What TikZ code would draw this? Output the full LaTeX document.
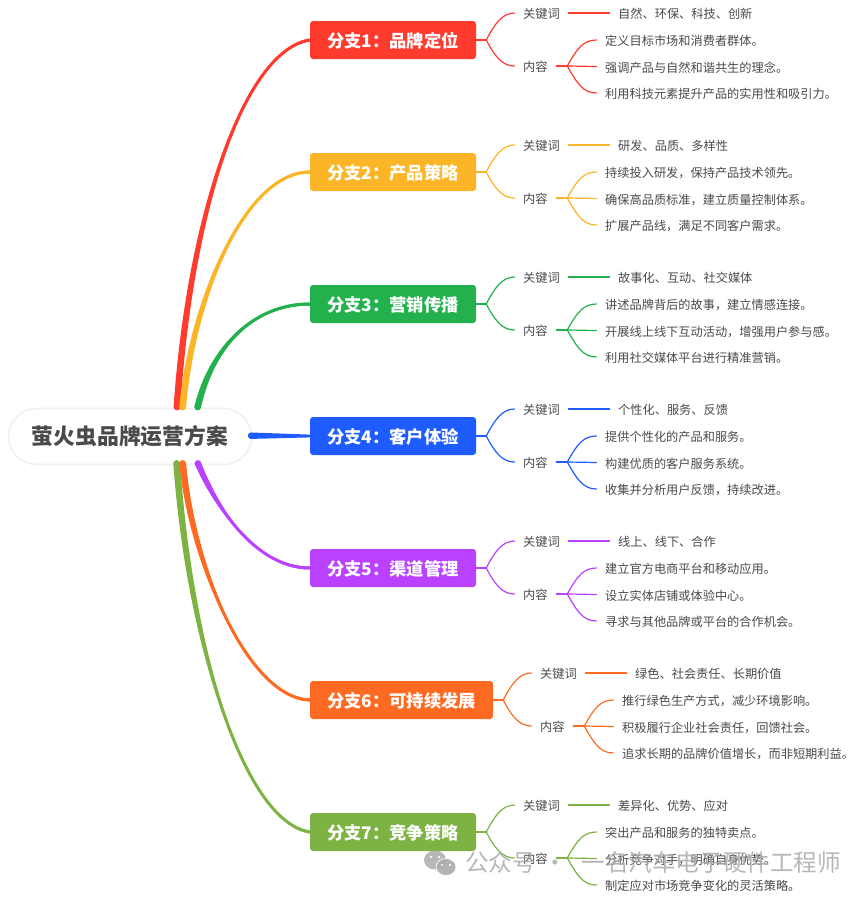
\documentclass[tikz,border=0pt]{standalone}
\usepackage{fontspec}
\setmainfont{Noto Sans CJK SC}
\usetikzlibrary{calc}

% Full-width punctuation
\newcommand{\zc}{\symbol{"FF0C}}
\newcommand{\zm}{\symbol{"FF1A}}

% Tapered limb from the central topic to a branch box: colour, start, c1, c2, target box
\newcommand{\limb}[5]{%
  \fill[#1] ($(#2)+(-3.4,0)$) .. controls ($(#3)+(-3,0)$) and ($(#4)+(0,-1.5)$) .. ($(#5.west)+(0,-1.5)$)
    -- ($(#5.west)+(0,1.5)$) .. controls ($(#4)+(0,1.5)$) and ($(#3)+(3,0)$) .. ($(#2)+(3.4,0)$) -- cycle;
  \draw[#1,line width=3pt] (#2) .. controls (#3) and (#4) .. (#5.west);
  \fill[#1] (#2) circle (3.4);
}

% One branch: id, colour, centre y, box width, x shift of the leaves, title, keywords, two items
\newcommand{\branchrow}[9]{%
  \node[branchbox,fill=#2,minimum width=#4pt] (b#1) at ({310+#4/2},#3) {#6};
  \node[leaf] (k#1) at (514.5+#5,#3-27) {关键词};
  \node[leaf] (c#1) at (514.5+#5,#3+26) {内容};
  \node[leaf] (w#1) at (609.5+#5,#3-27) {#7};
  \node[leaf] (ia#1) at (596.5+#5,#3) {#8};
  \node[leaf] (ib#1) at (596.5+#5,#3+26.5) {#9};
  \coordinate (f#1) at ($(b#1.east)+(10,0)$);
  \coordinate (g#1) at ($(c#1.east)+(11,0)$);
  \draw[twig,#2] (b#1.east) -- (f#1);
  \draw[twig,#2] (f#1) .. controls ($(f#1)+(9,-17)$) and ($(k#1.west)+(-12,0)$) .. (k#1.west);
  \draw[twig,#2] (f#1) .. controls ($(f#1)+(9,17)$) and ($(c#1.west)+(-12,0)$) .. (c#1.west);
  \draw[twig,#2] (k#1.east) -- (w#1.west);
  \draw[twig,#2] (c#1.east) -- (g#1);
  \draw[twig,#2] (g#1) .. controls ($(g#1)+(10,-18)$) and ($(ia#1.west)+(-13,0)$) .. (ia#1.west);
  \draw[twig,#2] (g#1) -- (ib#1.west);
  \branchlast{#1}{#2}{#3}{#5}%
}
\newcommand{\branchlast}[4]{%
  \node[leaf] (ic#1) at (596.5+#4,#3+53) {\csname lastitem#1\endcsname};
  \draw[twig,#2] (g#1) .. controls ($(g#1)+(10,18)$) and ($(ic#1.west)+(-13,0)$) .. (ic#1.west);
}

\definecolor{cred}{HTML}{FF3B2E}
\definecolor{cyel}{HTML}{FBB526}
\definecolor{cgrn}{HTML}{22B14C}
\definecolor{cblu}{HTML}{1F5CFF}
\definecolor{cpur}{HTML}{B941FF}
\definecolor{corg}{HTML}{FF6A22}
\definecolor{coli}{HTML}{7CB342}
\definecolor{ctxt}{HTML}{4A4A4A}

\tikzset{
  branchbox/.style={rounded corners=3pt,minimum height=38pt,inner sep=0pt,text=white,
    text height=17pt,text depth=3pt,font=\fontsize{17.3pt}{20pt}\selectfont\bfseries},
  leaf/.style={anchor=west,inner sep=8.5pt,text=ctxt,text height=14pt,text depth=2.5pt,
    font=\fontsize{12.2pt}{14pt}\selectfont},
  twig/.style={line width=1.2pt,line cap=round},
  rootbox/.style={rounded corners=28pt,draw=black!6,line width=1.6pt,fill=white,minimum width=243pt,
    minimum height=56pt,text=ctxt,font=\fontsize{21.8pt}{25pt}\selectfont\bfseries},
  markfont/.style={text=black!33,opacity=.85,anchor=west,inner sep=0pt,font=\fontsize{23.6pt}{26pt}\selectfont}
}

\newcommand{\lastitema}{利用科技元素提升产品的实用性和吸引力。}
\newcommand{\lastitemb}{扩展产品线\zc 满足不同客户需求。}
\newcommand{\lastitemc}{利用社交媒体平台进行精准营销。}
\newcommand{\lastitemd}{收集并分析用户反馈\zc 持续改进。}
\newcommand{\lastiteme}{寻求与其他品牌或平台的合作机会。}
\newcommand{\lastitemf}{追求长期的品牌价值增长\zc 而非短期利益。}
\newcommand{\lastitemg}{制定应对市场竞争变化的灵活策略。}

\begin{document}
\begin{tikzpicture}[x=1pt,y=-1pt]
\useasboundingbox (0,0) rectangle (865,898);
\fill[white] (0,0) rectangle (865,898);

\branchrow{a}{cred}{40}{166}{0}{分支1\zm 品牌定位}{自然、环保、科技、创新}{定义目标市场和消费者群体。}{强调产品与自然和谐共生的理念。}
\branchrow{b}{cyel}{172}{166}{0}{分支2\zm 产品策略}{研发、品质、多样性}{持续投入研发\zc 保持产品技术领先。}{确保高品质标准\zc 建立质量控制体系。}
\branchrow{c}{cgrn}{304}{166}{0}{分支3\zm 营销传播}{故事化、互动、社交媒体}{讲述品牌背后的故事\zc 建立情感连接。}{开展线上线下互动活动\zc 增强用户参与感。}
\branchrow{d}{cblu}{436}{166}{0}{分支4\zm 客户体验}{个性化、服务、反馈}{提供个性化的产品和服务。}{构建优质的客户服务系统。}
\branchrow{e}{cpur}{568}{166}{0}{分支5\zm 渠道管理}{线上、线下、合作}{建立官方电商平台和移动应用。}{设立实体店铺或体验中心。}
\branchrow{f}{corg}{700}{183}{17}{分支6\zm 可持续发展}{绿色、社会责任、长期价值}{推行绿色生产方式\zc 减少环境影响。}{积极履行企业社会责任\zc 回馈社会。}
\branchrow{g}{coli}{832}{166}{0}{分支7\zm 竞争策略}{差异化、优势、应对}{突出产品和服务的独特卖点。}{分析竞争对手\zc 明确自身优势。}

\node[rootbox] (root) at (130,436.5) {萤火虫品牌运营方案};

% Limbs leaving the central topic
\coordinate (sa) at (177,407);
\coordinate (sb) at (182.7,407);
\coordinate (sc) at (197.7,407);
\coordinate (sd) at (251,435.7);
\coordinate (se) at (198,463.5);
\coordinate (sf) at (182.7,463.5);
\coordinate (sg) at (176.7,463.5);
\coordinate (ca) at (190,210); \coordinate (da) at (245,50);
\coordinate (cb) at (192,300); \coordinate (db) at (245,172);
\coordinate (cc) at (212,345); \coordinate (dc) at (255,304);
\coordinate (ce) at (215,505); \coordinate (de) at (255,568);
\coordinate (cf) at (192,565); \coordinate (df) at (248,698);
\coordinate (cg) at (190,650); \coordinate (dg) at (245,822);

\limb{cred}{sa}{ca}{da}{ba}
\limb{cyel}{sb}{cb}{db}{bb}
\limb{cgrn}{sc}{cc}{dc}{bc}
\fill[cblu] (sd) circle (3.2);
\fill[cblu] ($(sd)+(0,-3.2)$) -- ($(bd.west)+(0,-1.4)$) -- ($(bd.west)+(0,1.4)$) -- ($(sd)+(0,3.2)$) -- cycle;
\limb{cpur}{se}{ce}{de}{be}
\limb{coli}{sg}{cg}{dg}{bg}
\limb{corg}{sf}{cf}{df}{bf}

% Account mark laid over the last branch
\fill[black!33,opacity=.85] (435,860) ellipse (11 and 9.5);
\fill[white] (431,857) circle (1.3) (439,857) circle (1.3);
\fill[black!33,opacity=.9,draw=white,line width=.8pt] (446,867) ellipse (10 and 8.5);
\fill[white] (442,865) circle (1.1) (450,865) circle (1.1);
\node[markfont] (mark) at (465,862) {公众号\hspace{8pt}·\hspace{14pt}一名汽车电子硬件工程师};
\end{tikzpicture}
\end{document}
